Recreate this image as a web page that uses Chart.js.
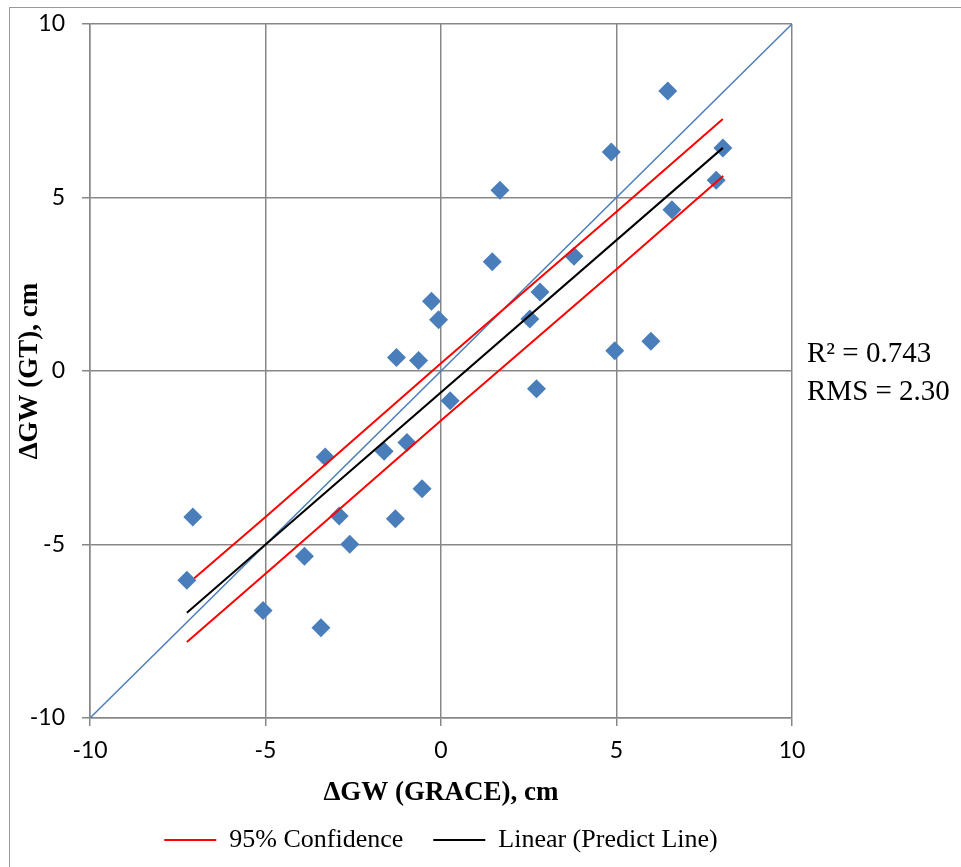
<!DOCTYPE html>
<html>
<head>
<meta charset="utf-8">
<title>GW GRACE vs GT</title>
<script src="https://cdn.jsdelivr.net/npm/chart.js@4.4.1/dist/chart.umd.min.js"></script>
<style>
  html, body { margin: 0; padding: 0; background: #fff; }
  #wrap { width: 961px; height: 867px; position: relative; }
</style>
</head>
<body>
<div id="wrap"><canvas id="gw-scatter"></canvas></div>
<script>
const graceX = [-7.24, -7.07, -5.07, -3.89, -3.42, -3.30, -2.90, -2.60, -1.62, -1.30,
                -1.27, -0.97, -0.64, -0.54, -0.27, -0.07, 0.26, 1.46, 1.68, 2.53,
                2.72, 2.82, 3.79, 4.85, 4.95, 5.98, 6.46, 6.58, 7.84, 8.03];
const gtY = [-6.03, -4.21, -6.90, -5.34, -7.40, -2.48, -4.18, -4.99, -2.31, -4.26,
             0.39, -2.06, 0.30, -3.39, 2.01, 1.48, -0.86, 3.15, 5.21, 1.50,
             -0.51, 2.28, 3.31, 6.31, 0.58, 0.86, 8.07, 4.65, 5.50, 6.43];

// 1:1 line
const oneToOneX = [-10, 10];
const oneToOneY = [-10, 10];

// regression line
const predictX = [-7.24, 8.03];
const predictY = [-6.97, 6.43];

// 95% confidence band
const upperX = [-7.03, -5, 0, 5, 8.03];
const upperY = [-5.97, -4.21, 0.22, 4.59, 7.26];
const lowerX = [-7.24, -5, 0, 5, 8.04];
const lowerY = [-7.81, -5.84, -1.43, 2.93, 5.62];

const axisTicks = [-10, -5, 0, 5, 10];
const statLines = ['R² = 0.743', 'RMS = 2.30'];
const legendLabels = ['95% Confidence', 'Linear (Predict Line)'];

function toPoints(xs, ys) {
  return xs.map((x, i) => ({x: x, y: ys[i]}));
}

const serif = "'Liberation Serif', 'Times New Roman', serif";
const sans = "Lato, 'Liberation Sans', sans-serif";
const gridGray = '#878787';

// outer frame + the R²/RMS note
const framePlugin = {
  id: 'frame',
  beforeDraw(chart) {
    const ctx = chart.ctx;
    ctx.save();
    ctx.fillStyle = '#fff';
    ctx.fillRect(0, 0, chart.width, chart.height);
    ctx.strokeStyle = '#9a9a9a';
    ctx.lineWidth = 1;
    ctx.strokeRect(9.5, 7.5, chart.width + 20, chart.height + 20);
    ctx.restore();
  },
  afterDraw(chart) {
    const ctx = chart.ctx;
    const area = chart.chartArea;
    const midY = (area.top + area.bottom) / 2;
    ctx.save();
    ctx.fillStyle = '#000';
    ctx.font = '29px ' + serif;
    ctx.textAlign = 'left';
    ctx.textBaseline = 'alphabetic';
    ctx.fillText(statLines[0], area.right + 15, midY - 9);
    ctx.fillText(statLines[1], area.right + 15, midY + 29);
    ctx.restore();
  }
};

const ctx = document.getElementById('gw-scatter').getContext('2d');
const chart = new Chart(ctx, {
  type: 'scatter',
  data: {
    datasets: [
      {
        label: legendLabels[0],
        data: toPoints(upperX, upperY),
        showLine: true,
        borderColor: '#ff0000',
        backgroundColor: '#ff0000',
        borderWidth: 2,
        pointRadius: 0,
        order: 1
      },
      {
        label: '95% Confidence lower',
        data: toPoints(lowerX, lowerY),
        showLine: true,
        borderColor: '#ff0000',
        backgroundColor: '#ff0000',
        borderWidth: 2,
        pointRadius: 0,
        order: 1
      },
      {
        label: legendLabels[1],
        data: toPoints(predictX, predictY),
        showLine: true,
        borderColor: '#000000',
        backgroundColor: '#000000',
        borderWidth: 2,
        pointRadius: 0,
        order: 1
      },
      {
        label: '1:1',
        data: toPoints(oneToOneX, oneToOneY),
        showLine: true,
        borderColor: '#4a7ebb',
        backgroundColor: '#4a7ebb',
        borderWidth: 1.5,
        pointRadius: 0,
        order: 2
      },
      {
        label: 'Observed',
        data: toPoints(graceX, gtY),
        pointStyle: 'rectRot',
        pointRadius: 9.5,
        pointHoverRadius: 9.5,
        backgroundColor: '#4a7ebb',
        borderColor: '#4a7ebb',
        borderWidth: 0,
        order: 10
      }
    ]
  },
  options: {
    responsive: true,
    maintainAspectRatio: false,
    animation: false,
    layout: {
      padding: {left: 9, right: 169, top: 24, bottom: 4}
    },
    plugins: {
      tooltip: {enabled: false},
      legend: {
        position: 'bottom',
        fullSize: false,
        labels: {
          usePointStyle: true,
          pointStyle: 'line',
          pointStyleWidth: 52,
          padding: 30,
          color: '#000',
          font: {family: serif, size: 26},
          filter: (item) => legendLabels.includes(item.text)
        }
      }
    },
    scales: {
      x: {
        type: 'linear',
        min: -10,
        max: 10,
        afterBuildTicks: (scale) => { scale.ticks = axisTicks.map(v => ({value: v})); },
        afterFit: (scale) => { scale.height = 79; },
        grid: {color: gridGray, lineWidth: 1.5, tickLength: 8, tickColor: gridGray},
        border: {color: gridGray, width: 1.5},
        ticks: {color: '#000', padding: 11, font: {family: sans, size: 23}},
        title: {
          display: true,
          text: 'ΔGW (GRACE), cm',
          color: '#000',
          font: {family: serif, size: 27, weight: 'bold', lineHeight: 1},
          padding: {top: 0, bottom: -10}
        }
      },
      y: {
        type: 'linear',
        min: -10,
        max: 10,
        afterBuildTicks: (scale) => { scale.ticks = axisTicks.map(v => ({value: v})); },
        afterFit: (scale) => {
          scale.width = 81;
          scale.paddingTop = 14;
          scale.paddingBottom = 14;
        },
        grid: {color: gridGray, lineWidth: 1.5, tickLength: 8, tickColor: gridGray},
        border: {color: gridGray, width: 1.5},
        ticks: {color: '#000', padding: 17, font: {family: sans, size: 23}},
        title: {
          display: true,
          text: 'ΔGW (GT), cm',
          color: '#000',
          font: {family: serif, size: 27, weight: 'bold', lineHeight: 1},
          padding: {top: 8, bottom: 0}
        }
      }
    }
  },
  plugins: [framePlugin]
});
</script>
</body>
</html>
